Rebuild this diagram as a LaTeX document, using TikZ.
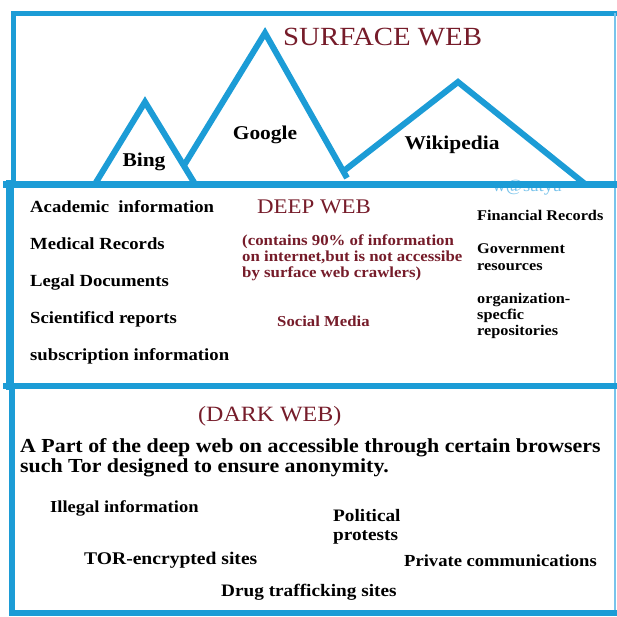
\documentclass[tikz,border=0pt]{standalone}
\usepackage{fontspec}
\setmainfont[FakeStretch=1.1]{Liberation Serif}
\definecolor{webblue}{RGB}{28,156,214}
\definecolor{paleblue}{RGB}{120,195,235}
\definecolor{wine}{RGB}{118,28,42}
\newcommand{\fsz}[2]{\fontsize{#1}{#2}\selectfont}
\begin{document}
\begin{tikzpicture}[x=1pt,y=-1pt,
  frame/.style={draw=webblue,line cap=rect},
  peak/.style={draw=webblue,line width=6pt,line join=miter},
  lbl/.style={inner sep=0pt,anchor=base west,text=black},
  peaklbl/.style={inner sep=0pt,anchor=base,text=black,font=\bfseries\fsz{19.5}{20}},
  title/.style={inner sep=0pt,anchor=base west,text=wine},
  leftitem/.style={lbl,font=\bfseries\fsz{17}{20}},
  rightitem/.style={lbl,align=left},
  darkitem/.style={lbl,font=\bfseries\fsz{17.5}{19}},
  note/.style={inner sep=0pt,anchor=base west,text=wine,font=\bfseries\fsz{15.3}{16},align=left}]
\useasboundingbox (0,0) rectangle (617,616);
\fill[white] (0,0) rectangle (617,616);

% faint signature, partly covered by the band line
\node[inner sep=0pt,anchor=base,text=paleblue,font=\fsz{17}{17}] (sig) at (527,191) {w@satya};

% the three layers
\draw[frame,line width=5pt] (13,184) -- (13,13) -- (617,13);
\draw[draw=paleblue,line width=2pt] (615,13) -- (615,614);
\draw[frame,line width=8pt] (10,184) -- (10,386);
\draw[frame,line width=6pt] (12,386) -- (12,613) -- (615,613);
\draw[frame,line width=6pt] (6,386) -- (617,386);

% surface-web peaks
\draw[peak] (95,184) -- (145,102) -- (195,184);
\draw[peak] (183,167) -- (265,33) -- (347,178);
\draw[peak] (345,170) -- (458,82) -- (585,184);
\draw[frame,line width=7pt] (6,184) -- (617,184);

% surface web
\node[title,font=\fsz{26.2}{28}] (surface) at (283,45) {SURFACE WEB};
\node[peaklbl] (bing) at (144,166) {Bing};
\node[peaklbl] (google) at (265,139) {Google};
\node[peaklbl] (wiki) at (452,149) {Wikipedia};

% deep web
\node[leftitem] (acad) at (30,212) {Academic\ \ information};
\node[leftitem] (med) at (30,249) {Medical Records};
\node[leftitem] (legal) at (30,286) {Legal Documents};
\node[leftitem] (sci) at (30,323) {Scientificd reports};
\node[leftitem] (subs) at (30,360) {subscription information};

\node[title,font=\fsz{20.8}{22}] (deep) at (257,213) {DEEP WEB};
\node[note] (contains) at (242,277) {(contains 90\% of information\\on internet,but is not accessibe\\by surface web crawlers)};
\node[title,font=\bfseries\fsz{15.2}{16}] (social) at (277,326) {Social Media};

\node[rightitem,font=\bfseries\fsz{14.8}{17}] (fin) at (477,220) {Financial Records};
\node[rightitem,font=\bfseries\fsz{14.8}{17}] (gov) at (477,270) {Government\\resources};
\node[rightitem,font=\bfseries\fsz{14.8}{16}] (org) at (477,335) {organization-\\specfic\\repositories};

% dark web
\node[title,font=\fsz{21.8}{22}] (dark) at (198,421) {(DARK WEB)};
\node[lbl,font=\bfseries\fsz{19.9}{20},align=left] (about) at (20,472) {A Part of the deep web on accessible through certain browsers\\such Tor designed to ensure anonymity.};
\node[darkitem,font=\bfseries\fsz{16.8}{19}] (illegal) at (50,512) {Illegal information};
\node[darkitem,align=left] (political) at (333,540) {Political\\protests};
\node[darkitem,font=\bfseries\fsz{17.8}{19}] (tor) at (84,564) {TOR-encrypted sites};
\node[darkitem,font=\bfseries\fsz{16.9}{19}] (private) at (404,566) {Private communications};
\node[darkitem] (drug) at (221,596) {Drug trafficking sites};
\end{tikzpicture}
\end{document}
